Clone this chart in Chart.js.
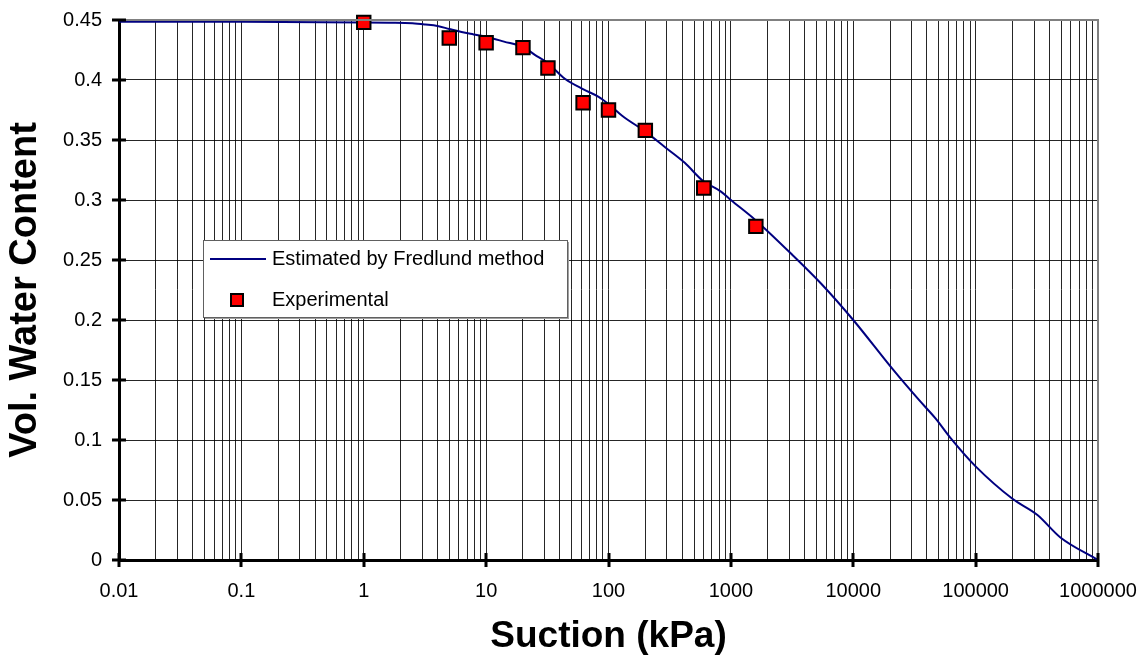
<!DOCTYPE html>
<html>
<head>
<meta charset="utf-8">
<script src="https://cdn.jsdelivr.net/npm/chart.js@4.4.1/dist/chart.umd.min.js"></script>
<style>
  html, body { margin: 0; padding: 0; background: #fff; }
  #wrap { width: 1148px; height: 665px; }
</style>
</head>
<body>
<div id="wrap"><canvas id="chart" width="1148" height="665"></canvas></div>
<script>
// fitted curve (Fredlund)
const curveSuction = [0.01, 0.1, 1, 1.6, 2.5, 3.2, 4, 5, 6.3, 7.9,
  10, 14, 20, 25, 32, 44, 63, 83, 100, 130,
  200, 290, 420, 590, 830, 1000, 1600, 3200, 5500, 10000,
  21000, 34000, 47000, 62000, 100000, 200000, 320000, 490000, 1000000];
const curveWater = [0.4485, 0.4485, 0.448, 0.4477, 0.4472, 0.4462, 0.445, 0.4425, 0.440, 0.438,
  0.436, 0.432, 0.4275, 0.421, 0.414, 0.401, 0.392, 0.386, 0.380, 0.370,
  0.357, 0.344, 0.331, 0.316, 0.307, 0.300, 0.283, 0.254, 0.230, 0.200,
  0.159, 0.134, 0.118, 0.102, 0.078, 0.051, 0.0375, 0.019, 0.000];

// lab points
const expSuction = [1, 5, 10, 20, 32, 62, 100, 200, 600, 1600];
const expWater = [0.448, 0.435, 0.431, 0.427, 0.410, 0.381, 0.375, 0.358, 0.310, 0.278];

const xTickValues = [0.01, 0.1, 1, 10, 100, 1000, 10000, 100000, 1000000];
const xTickLabels = ["0.01", "0.1", "1", "10", "100", "1000", "10000", "100000", "1000000"];
const yTickValues = [0, 0.05, 0.1, 0.15, 0.2, 0.25, 0.3, 0.35, 0.4, 0.45];
const yTickLabels = ["0", "0.05", "0.1", "0.15", "0.2", "0.25", "0.3", "0.35", "0.4", "0.45"];

const FONT = "'Liberation Sans', Arial, sans-serif";

function decadeIndex(v) {
  return xTickValues.findIndex(d => Math.abs(v / d - 1) < 1e-6);
}

function noPad(scale) {
  scale.paddingLeft = 0;
  scale.paddingRight = 0;
  scale.paddingTop = 0;
  scale.paddingBottom = 0;
}

// frame, tick marks and the boxed legend
const framePlugin = {
  id: 'frame',
  afterDraw(chart) {
    const ctx = chart.ctx;
    const a = chart.chartArea;
    const xs = chart.scales.x, ys = chart.scales.y;
    ctx.save();
    ctx.strokeStyle = '#808080';
    ctx.lineWidth = 2;
    ctx.beginPath();
    ctx.moveTo(a.left, a.top);
    ctx.lineTo(a.right, a.top);
    ctx.lineTo(a.right, a.bottom);
    ctx.stroke();

    ctx.strokeStyle = '#000';
    ctx.lineWidth = 3;
    ctx.beginPath();
    xTickValues.forEach(v => {
      const px = Math.round(xs.getPixelForValue(v));
      ctx.moveTo(px, a.bottom - 7);
      ctx.lineTo(px, a.bottom + 7);
    });
    yTickValues.forEach(v => {
      const py = Math.round(ys.getPixelForValue(v));
      ctx.moveTo(a.left - 7, py);
      ctx.lineTo(a.left + 7, py);
    });
    ctx.stroke();

    // legend
    const lx = 203, ly = 240, lw = 364, lh = 77;
    ctx.fillStyle = '#a0a0a0';
    ctx.fillRect(lx + 2, ly + 2, lw, lh);
    ctx.fillStyle = '#fff';
    ctx.fillRect(lx, ly, lw, lh);
    ctx.strokeStyle = '#606060';
    ctx.lineWidth = 1;
    ctx.strokeRect(lx + 0.5, ly + 0.5, lw, lh);

    const ds = chart.data.datasets;
    ctx.strokeStyle = ds[0].borderColor;
    ctx.lineWidth = 2;
    ctx.beginPath();
    ctx.moveTo(210, 259);
    ctx.lineTo(266, 259);
    ctx.stroke();

    ctx.fillStyle = ds[1].backgroundColor;
    ctx.fillRect(231, 294, 12, 12);
    ctx.strokeStyle = '#000';
    ctx.lineWidth = 2;
    ctx.strokeRect(231, 294, 12, 12);

    ctx.fillStyle = '#000';
    ctx.font = '20px ' + FONT;
    ctx.textBaseline = 'middle';
    ctx.textAlign = 'left';
    ctx.fillText(ds[0].label, 272, 259);
    ctx.fillText(ds[1].label, 272, 300);
    ctx.restore();
  }
};

new Chart(document.getElementById('chart'), {
  type: 'scatter',
  data: {
    datasets: [{
      label: 'Estimated by Fredlund method',
      data: curveSuction.map((x, i) => ({ x, y: curveWater[i] })),
      showLine: true,
      borderColor: '#000080',
      borderWidth: 2,
      pointRadius: 0,
      cubicInterpolationMode: 'monotone',
      order: 2
    }, {
      label: 'Experimental',
      data: expSuction.map((x, i) => ({ x, y: expWater[i] })),
      pointStyle: 'rect',
      pointRadius: 9.5,
      backgroundColor: '#ff0000',
      borderColor: '#000',
      borderWidth: 2,
      clip: false,
      order: 1
    }]
  },
  options: {
    responsive: false,
    animation: false,
    layout: { padding: { left: 0, top: 20, right: 50, bottom: 0 } },
    plugins: {
      legend: { display: false },
      tooltip: { enabled: false }
    },
    scales: {
      x: {
        type: 'logarithmic',
        min: 0.01,
        max: 1000000,
        afterBuildTicks(scale) {
          const t = [];
          for (let e = -2; e < 6; e++) {
            for (let m = 1; m < 10; m++) t.push({ value: m * Math.pow(10, e) });
          }
          t.push({ value: 1000000 });
          scale.ticks = t;
        },
        afterFit(scale) { scale.height = 105; noPad(scale); },
        grid: { color: 'rgba(0,0,0,0.85)', lineWidth: 1, drawTicks: false },
        border: { color: '#000', width: 3 },
        ticks: {
          autoSkip: false,
          maxRotation: 0,
          padding: 19,
          color: '#000',
          font: { family: FONT, size: 20 },
          callback(v) {
            const i = decadeIndex(v);
            return i >= 0 ? xTickLabels[i] : '';
          }
        },
        title: {
          display: true,
          text: 'Suction (kPa)',
          color: '#000',
          font: { family: FONT, size: 37, weight: 'bold', lineHeight: 1 },
          padding: { top: 0, bottom: 10 }
        }
      },
      y: {
        min: 0,
        max: 0.45,
        afterBuildTicks(scale) {
          scale.ticks = yTickValues.map(value => ({ value }));
        },
        afterFit(scale) { scale.width = 119; noPad(scale); },
        grid: { color: 'rgba(0,0,0,0.85)', lineWidth: 1, drawTicks: false },
        border: { color: '#000', width: 3 },
        ticks: {
          padding: 17,
          color: '#000',
          font: { family: FONT, size: 20 },
          callback(v) {
            const i = yTickValues.findIndex(t => Math.abs(t - v) < 1e-9);
            return i >= 0 ? yTickLabels[i] : '';
          }
        },
        title: {
          display: true,
          text: 'Vol. Water Content',
          color: '#000',
          font: { family: FONT, size: 38, weight: 'bold', lineHeight: 1 },
          padding: { top: 7, bottom: 0 }
        }
      }
    }
  },
  plugins: [framePlugin]
});
</script>
</body>
</html>
